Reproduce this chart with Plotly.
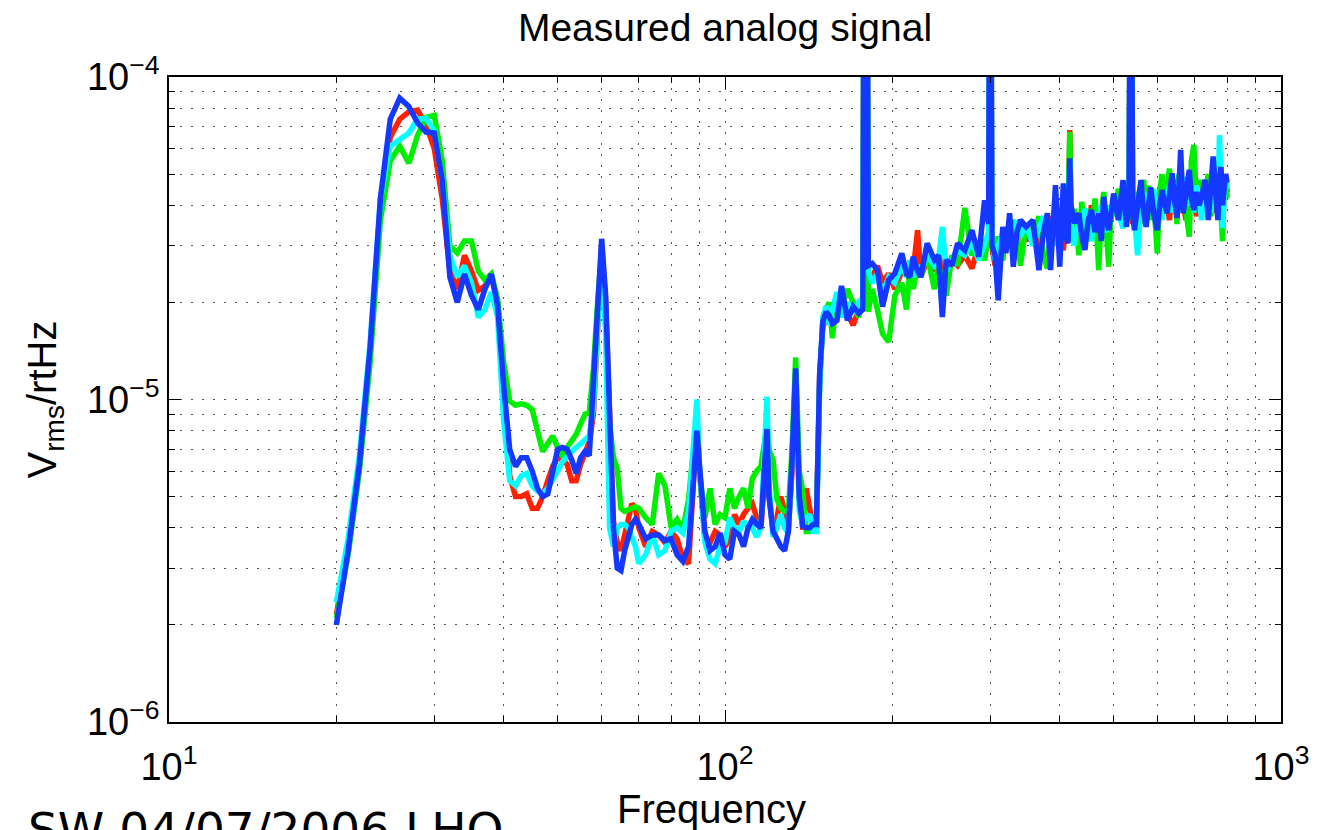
import numpy as np
import plotly.graph_objects as go

# ---------------- data (values in units of 1e-6 V/rtHz) ----------------
freq_low = [20, 21, 22, 23, 24, 25, 26, 27, 28, 29,
            30, 31, 32, 33, 34, 35, 36, 37, 38, 39,
            40, 41, 42, 43, 44, 45, 46, 47, 48, 49,
            50, 51, 52, 53, 54, 55, 56, 57, 58, 59,
            60, 61, 62, 63, 64, 65, 66, 67, 68, 69,
            70, 72, 74, 76, 78, 80, 82, 84, 86, 88,
            89, 90, 92, 94, 96, 98, 100, 102, 104, 106,
            108, 110, 112, 114, 116, 118, 119, 120, 122, 124,
            126, 128, 130, 132, 134, 136, 138, 140, 142, 144,
            146, 148, 150]

freq_high = [152, 154, 156, 159, 162, 166, 170, 174, 177, 178,
             180, 181, 184, 188, 192, 197, 202, 208, 212, 215,
             218, 222, 225, 231, 238, 242, 246, 250, 256, 262,
             270, 278, 286, 293, 298, 300, 302, 306, 310, 316,
             320, 325, 330, 335, 340, 348, 358, 367, 374, 380,
             385, 393, 400, 406, 410, 414, 417, 419, 425, 433,
             438, 444, 450, 456, 463, 470, 475, 480, 485, 490,
             495, 500, 510, 520, 527, 533, 537, 541, 545, 552,
             560, 566, 572, 578, 583, 590, 599, 605, 611, 618,
             624, 630, 637, 643, 650, 655, 660, 667, 675, 684,
             690, 697, 705, 712, 720, 730, 740, 748, 755, 762,
             770, 775, 780, 785, 790, 795, 800]

red_low = [2.15, 3.5, 6.3, 14, 40, 65, 74, 78, 79, 71,
           60, 42, 25, 22, 28, 25, 21.8, 22.5, 24, 20,
           10.5, 5.8, 5.0, 5.0, 5.1, 4.6, 4.6, 5.0, 5.6, 6.2,
           6.6, 6.5, 6.3, 5.6, 5.6, 6.3, 6.8, 7.4, 9.0, 18,
           30, 20, 8.0, 4.2, 3.6, 3.4, 3.8, 4.3, 4.75, 4.6,
           4.0, 3.5, 3.9, 3.8, 3.6, 3.9, 3.7, 3.2, 3.1, 6.0,
           9.0, 6.0, 3.7, 3.6, 3.9, 3.8, 3.5, 3.7, 4.4, 4.1,
           4.4, 4.6, 4.75, 4.3, 3.95, 6.0, 7.5, 5.0, 3.95, 4.3,
           5.0, 4.5, 3.95, 6.0, 12, 5.0, 3.95, 5.3, 4.7, 4.0,
           4.0, 12, 17]

green_low = [2.1, 3.3, 6.0, 13, 36, 55, 61, 54, 66, 75,
             76, 55, 30, 28.5, 31, 31, 25, 23.5, 24.5, 20.5,
             13, 9.9, 9.6, 9.7, 9.6, 9.3, 8.0, 6.9, 7.3, 7.7,
             7.1, 6.7, 7.1, 7.5, 7.8, 8.4, 9.0, 9.1, 12.5, 20,
             29, 17, 8.5, 6.6, 6.1, 4.6, 4.5, 4.55, 4.6, 4.65,
             4.6, 4.3, 4.1, 5.9, 5.4, 4.0, 4.25, 3.95, 4.9, 7.0,
             9.0, 6.0, 4.3, 5.3, 4.1, 4.4, 4.3, 5.3, 4.6, 5.0,
             5.3, 4.6, 5.7, 6.0, 6.2, 7.5, 8.5, 7.0, 6.5, 4.9,
             4.6, 4.5, 4.5, 7.0, 13.5, 6.0, 5.2, 3.9, 3.9, 4.0,
             3.9, 11, 18]

cyan_low = [2.35, 3.7, 6.7, 15, 42, 61, 64, 67, 74, 74.5,
            68, 48, 28, 24, 26, 23, 18, 19, 21.5, 18,
            8.5, 5.6, 5.4, 5.8, 5.9, 5.4, 5.2, 5.1, 5.3, 5.6,
            6.0, 6.4, 6.7, 6.9, 7.1, 7.3, 7.5, 7.7, 9.5, 18,
            29.5, 16, 4.0, 3.5, 4.0, 4.1, 4.1, 4.0, 3.7, 3.5,
            3.1, 3.3, 3.8, 3.3, 3.4, 3.9, 4.0, 3.85, 4.5, 7.5,
            10.0, 6.0, 3.6, 3.2, 3.1, 3.5, 3.6, 4.3, 4.0, 3.9,
            4.2, 4.0, 4.0, 3.75, 4.0, 7.5, 10.2, 5.5, 3.75, 4.0,
            4.4, 4.0, 3.85, 6.5, 11.5, 4.5, 4.1, 4.3, 4.4, 3.9,
            3.9, 11.5, 18]

blue_low = [2.0, 3.4, 6.3, 14.5, 42, 74, 86, 81, 72, 67.5,
            67, 48, 24, 20, 24.5, 21, 19, 22, 24.5, 19.5,
            11, 7.0, 6.2, 6.6, 6.6, 6.0, 5.3, 5.0, 5.1, 6.0,
            7.0, 7.1, 7.0, 6.5, 5.9, 6.6, 6.9, 6.7, 11, 20,
            31.5, 21, 8.5, 4.0, 3.0, 2.95, 3.4, 3.8, 4.1, 4.25,
            4.1, 3.7, 3.8, 3.8, 3.65, 3.7, 3.3, 3.15, 3.5, 6.0,
            8.0, 6.2, 3.9, 3.4, 3.5, 3.85, 3.3, 3.2, 3.9, 3.8,
            3.5, 4.0, 4.25, 4.1, 4.0, 6.5, 8.1, 5.0, 3.9, 3.7,
            3.5, 3.4, 3.9, 6.5, 12.5, 5.0, 4.05, 4.0, 4.0, 4.1,
            4.1, 12, 17.5]

red_high = [17.5, 19.5, 18, 19, 20, 18.5, 17, 19, 20, 450,
            380, 23, 24, 26, 23, 24.6, 22, 25, 26, 23,
            25, 33.5, 24, 27, 25, 28, 26, 24.5, 27, 26,
            28, 25.5, 30, 28, 33, 900, 30, 26, 28, 31,
            30, 32, 34, 30, 36, 31, 34, 30, 36, 33,
            37, 31, 35, 29, 36, 32, 68.5, 36, 34, 38,
            30, 36, 33, 40, 36, 32, 38, 35, 40, 34,
            37, 38, 42, 36, 40, 37, 600, 35, 42, 37,
            41, 45, 36, 40, 44, 38, 35, 43, 39, 46,
            41, 36, 44, 48, 38, 42, 46, 40, 36, 44,
            50, 41, 37, 45, 42, 46, 39, 47, 43, 38,
            51, 46, 40, 48, 42, 50, 44]

green_high = [19, 20, 15.5, 21, 19, 22, 20, 18, 21, 420,
              350, 18.7, 22, 19, 16, 15.1, 21, 23, 19, 25,
              22, 26, 24, 28, 22, 26, 24, 21, 28, 26,
              39.3, 28, 31, 27, 33, 850, 31, 29, 32, 27,
              34, 30, 36, 33, 26, 35, 31, 37, 28, 25.5,
              33, 36, 30, 40, 33, 38, 67.6, 34, 39, 28,
              41, 33, 39, 31, 42, 25.2, 38, 44, 34, 25.8,
              40, 37, 45, 35, 42, 38, 650, 36, 44, 40,
              35, 48, 39, 46, 36, 42, 28.4, 44, 50, 38,
              45, 52, 40, 47, 35, 50, 42, 46, 38, 32,
              55, 61.6, 40, 48, 38, 44, 50, 37, 48, 41,
              46, 52, 38, 31, 44, 49, 42]

cyan_high = [19.5, 17, 19, 21.5, 18, 20, 18.5, 20, 19.5, 420,
             340, 25, 23, 24.5, 21, 24, 23, 26, 24, 27,
             24, 26, 25, 28, 26, 27, 34.3, 25, 27, 29,
             28, 31, 27, 30, 33, 880, 31, 27, 30, 33,
             29, 34, 31, 36, 32, 35, 30, 34, 37, 32,
             36, 30, 38, 33, 37, 31, 55, 35, 30, 37,
             34, 39, 35, 31, 38, 35, 40, 36, 33, 40,
             37, 42, 38, 34, 42, 39, 620, 41, 37, 28,
             40, 44, 38, 42, 39, 45, 38, 42, 36, 44,
             40, 46, 38, 43, 47, 39, 45, 42, 49, 40,
             44, 38, 46, 43, 36, 47, 42, 38, 50, 44,
             40, 66, 46, 34, 43, 48, 45]

blue_high = [18.7, 18.2, 17.2, 17.6, 22.5, 17.6, 19.4, 18.5, 19, 500,
             400, 26, 26.4, 25.2, 19.4, 23.5, 24.6, 28.4, 24.5, 24,
             27.7, 25, 24, 30.5, 27.1, 28, 18, 27.1, 26, 30.5,
             29, 33.5, 27.7, 41.5, 35, 1000, 30, 28, 20.3, 34.3,
             28.4, 37.8, 25.8, 33, 36, 34.3, 36, 25.2, 33, 37.8,
             25.2, 46.2, 25.8, 46.8, 32, 30.5, 56, 40, 35.2, 37.8,
             32, 29.1, 36, 38.7, 33, 37.8, 31, 42.5, 36, 33.5,
             38, 43.5, 36, 47.9, 34.3, 40, 700, 38, 33.5, 40,
             47.9, 38, 34.3, 40, 45.5, 38, 33.5, 40, 44.6, 40,
             37.8, 43, 50.3, 42, 36.6, 45, 59.4, 37.8, 44, 51.5,
             42, 38.7, 44, 40, 42.5, 48, 36, 44, 56.7, 45,
             36, 48, 52.6, 40, 45.5, 50, 47]

x_tickvals = [10, 100, 1000]
x_ticktext = ["10<sup>1</sup>", "10<sup>2</sup>", "10<sup>3</sup>"]
x_minorvals = [20, 30, 40, 50, 60, 70, 80, 90, 200, 300, 400, 500, 600, 700, 800, 900]
y_tickvals = [1e-6, 1e-5, 1e-4]
y_ticktext = ["10<sup>\u22126</sup>", "10<sup>\u22125</sup>", "10<sup>\u22124</sup>"]
y_minorvals = [2e-6, 3e-6, 4e-6, 5e-6, 6e-6, 7e-6, 8e-6, 9e-6,
               2e-5, 3e-5, 4e-5, 5e-5, 6e-5, 7e-5, 8e-5, 9e-5]

UNIT = 1e-6
freq = freq_low + freq_high
series = [
    ("red", red_low + red_high, "#FF2200"),
    ("green", green_low + green_high, "#00EE00"),
    ("cyan", cyan_low + cyan_high, "#00FFFF"),
    ("blue", blue_low + blue_high, "#1438FF"),
]

FONT = "Liberation Sans, Arial, Helvetica, sans-serif"

fig = go.Figure()
for name, vals, col in series:
    assert len(vals) == len(freq), (name, len(vals), len(freq))
    fig.add_trace(go.Scatter(x=freq, y=np.array(vals) * UNIT, mode="lines",
                             name=name, line=dict(color=col, width=5.5),
                             showlegend=False, hoverinfo="skip"))

gridstyle = dict(showgrid=True, gridcolor="#555555", gridwidth=1.2, griddash="2px,9px")

fig.update_layout(
    width=1322, height=830,
    margin=dict(l=169, r=33, t=77, b=108),
    plot_bgcolor="white", paper_bgcolor="white",
    showlegend=False,
    font=dict(family=FONT, color="black"),
    title=dict(text="Measured analog signal", x=0.5, xref="paper", xanchor="center",
               yref="container", y=1 - 14 / 830, yanchor="top",
               font=dict(size=39, family=FONT, color="black")),
    annotations=[
        dict(text="Frequency", xref="paper", yref="paper",
             x=(715 - 169) / 1120, y=(722 - 785) / 645,
             xanchor="center", yanchor="top", showarrow=False,
             font=dict(size=40, family=FONT, color="black")),
        dict(text="SW 04/07/2006 LHO", xref="paper", yref="paper",
             x=(25 - 169) / 1120, y=(722 - 800) / 645,
             xanchor="left", yanchor="top", showarrow=False,
             font=dict(size=47, family="DejaVu Sans", color="black")),
    ],
)

fig.update_xaxes(
    type="log", range=[1, 3],
    tickmode="array", tickvals=x_tickvals, ticktext=x_ticktext,
    tickfont=dict(size=38, family=FONT, color="black"),
    ticks="inside", ticklen=12, tickwidth=1.2, tickcolor="black",
    showline=True, linecolor="black", linewidth=1.8, mirror="ticks",
    zeroline=False, ticklabelstandoff=10,
    minor=dict(tickmode="array", tickvals=x_minorvals, ticks="inside", ticklen=6,
               tickwidth=1.2, tickcolor="black", **gridstyle),
    **gridstyle,
)
fig.update_yaxes(
    type="log", range=[-6, -4],
    tickmode="array", tickvals=y_tickvals, ticktext=y_ticktext,
    tickfont=dict(size=38, family=FONT, color="black"),
    ticks="inside", ticklen=12, tickwidth=1.2, tickcolor="black",
    showline=True, linecolor="black", linewidth=1.8, mirror="ticks",
    zeroline=False, ticklabelstandoff=0,
    minor=dict(tickmode="array", tickvals=y_minorvals, ticks="inside", ticklen=6,
               tickwidth=1.2, tickcolor="black", **gridstyle),
    title=dict(text="V<sub>rms</sub>/rtHz", font=dict(size=40, family=FONT, color="black"), standoff=18),
    **gridstyle,
)

fig.write_html("out.html")
